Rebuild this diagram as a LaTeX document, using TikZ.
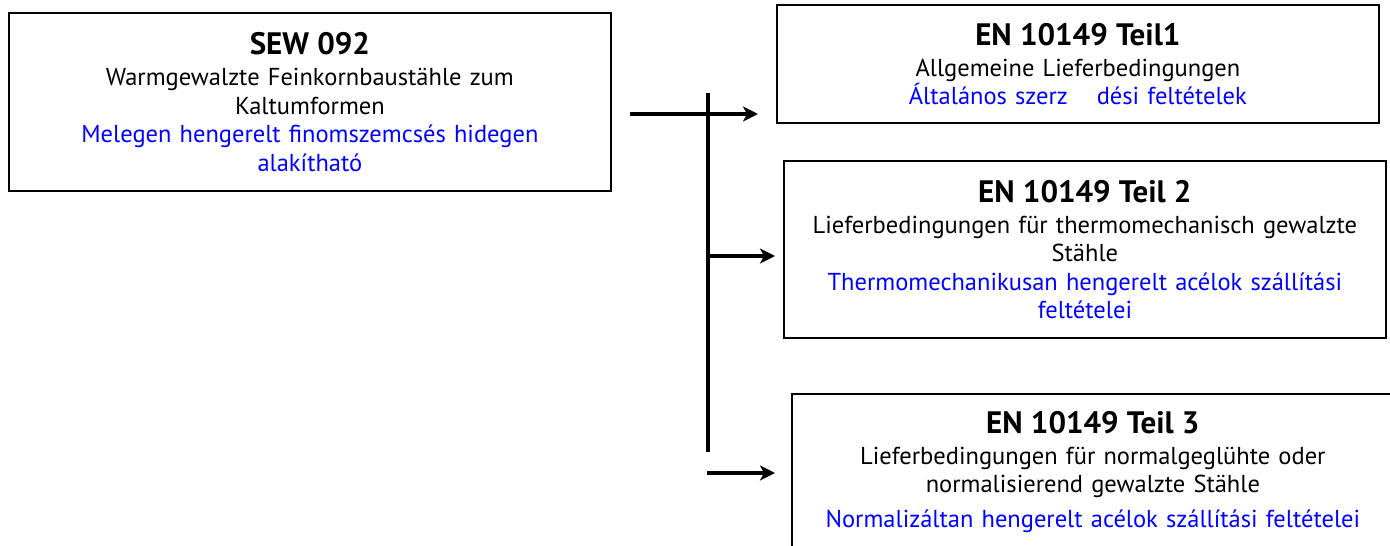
\documentclass[tikz,border=0pt]{standalone}
\usepackage{fontspec}
\setmainfont{PT Sans}
\usetikzlibrary{arrows.meta}
\newcommand{\hdr}[1]{{\fontsize{31}{32}\selectfont\bfseries #1}\\[2.5pt]}

\begin{document}
\begin{tikzpicture}[x=1pt,y=-1pt,
  box/.style={draw, line width=1.8pt, anchor=north west, align=center,
    inner xsep=8pt, inner ysep=0pt, text width=586pt,
    font=\fontsize{24.5}{28.5}\selectfont},
  link/.style={line width=3.5pt, -{Stealth[length=15pt,width=15pt,inset=4pt]}},
  bus/.style={line width=3.5pt}]
\useasboundingbox (0,0) rectangle (1390,546);
\clip (0,0) rectangle (1390,546);

% standards
\node[box, minimum height=178pt] (sew) at (8,12) {\hdr{SEW 092}
  Warmgewalzte Feinkornbaustähle zum\\
  Kaltumformen\\
  \color{blue}Melegen hengerelt finomszemcsés hidegen\\
  alakítható};
\node[box, minimum height=118pt] (en1) at (776,4) {\hdr{EN 10149 Teil1}
  Allgemeine Lieferbedingungen\\
  \color{blue}Általános szerz\hspace{29pt}dési feltételek};
\node[box, minimum height=177pt] (en2) at (783,160) {\hdr{EN 10149 Teil 2}
  Lieferbedingungen für thermomechanisch gewalzte\\
  Stähle\\
  \color{blue}Thermomechanikusan hengerelt acélok szállítási\\
  feltételei};
\node[box, minimum height=156pt] (en3) at (791,393) {\hdr{EN 10149 Teil 3}
  Lieferbedingungen für normalgeglühte oder\\
  normalisierend gewalzte Stähle\\[6pt]
  \color{blue}Normalizáltan hengerelt acélok szállítási feltételei};

% connectors
\coordinate (start) at (630,114);
\coordinate (bustop) at (708,93);
\coordinate (busbot) at (708,452);
\coordinate (b2) at (708,256);
\coordinate (b3) at (707,473);
\draw[bus] (bustop) -- (busbot);
\draw[link, shorten >=18pt] (start) -- (start -| en1.west);
\draw[link, shorten >=8pt] (b2) -- (b2 -| en2.west);
\draw[link, shorten >=16pt] (b3) -- (b3 -| en3.west);
\end{tikzpicture}
\end{document}
